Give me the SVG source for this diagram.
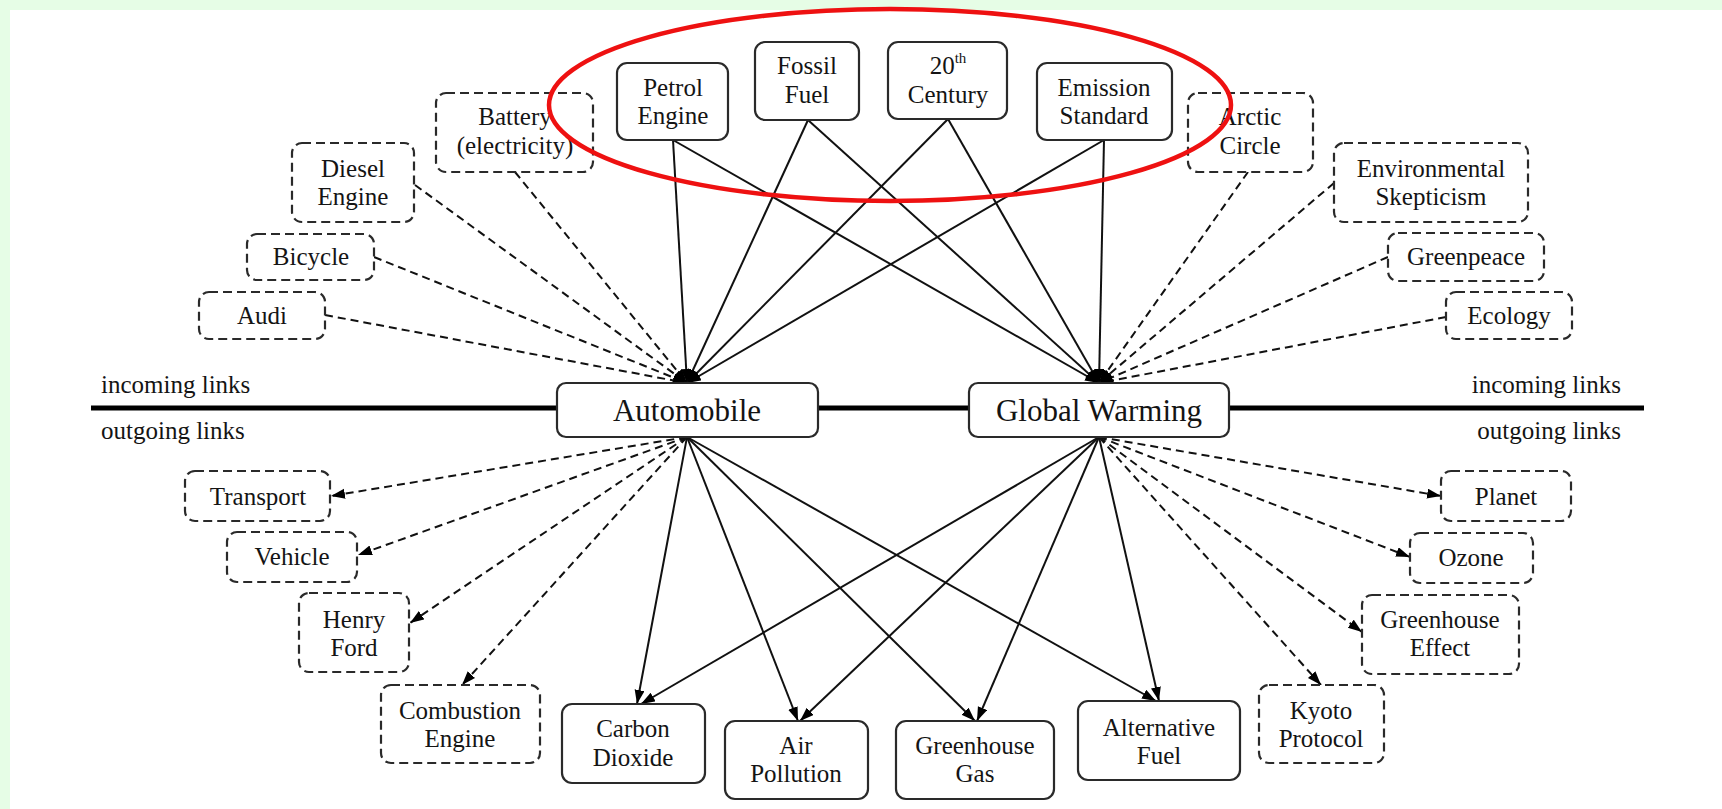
<svg xmlns="http://www.w3.org/2000/svg" width="1722" height="809" viewBox="0 0 1722 809">
<style>
.bg{fill:#e6fde6}
.box{fill:#fff;stroke:#2a2a2a;stroke-width:2.2}
.dbox{fill:#fff;stroke:#2a2a2a;stroke-width:2.2;stroke-dasharray:9 5}
text{font-family:"Liberation Serif","Times New Roman",serif;font-size:25px;fill:#141414;text-anchor:middle}
.big{font-size:31px}
.lbl{text-anchor:start}
.lblr{text-anchor:end}
.sup{font-size:15px}
.s{fill:none;stroke:#111;stroke-width:2;marker-end:url(#ah)}
.d{fill:none;stroke:#111;stroke-width:2;stroke-dasharray:8 5;marker-end:url(#ah)}
.axis{stroke:#000;stroke-width:5}
.oval{fill:none;stroke:#ee1111;stroke-width:4.5}
</style>
<defs>
<marker id="ah" markerUnits="userSpaceOnUse" markerWidth="16" markerHeight="11" refX="14" refY="5" orient="auto">
<path d="M0,0 L14,5 L0,10 z" fill="#000" stroke="none"/>
</marker>
</defs>
<rect x="0" y="0" width="1722" height="809" class="bg"/>
<rect x="10" y="10" width="1712" height="799" fill="#fff"/>
<line class="axis" x1="91" y1="408" x2="1644" y2="408"/>
<text class="lbl" x="101" y="393">incoming links</text>
<text class="lbl" x="101" y="439">outgoing links</text>
<text class="lblr" x="1621" y="393">incoming links</text>
<text class="lblr" x="1621" y="439">outgoing links</text>
<g id="connectors">
<line class="s" x1="673" y1="140" x2="687" y2="383"/>
<line class="s" x1="673" y1="140" x2="1099" y2="383"/>
<line class="s" x1="808" y1="120" x2="687" y2="383"/>
<line class="s" x1="808" y1="120" x2="1099" y2="383"/>
<line class="s" x1="948" y1="119" x2="687" y2="383"/>
<line class="s" x1="948" y1="119" x2="1099" y2="383"/>
<line class="s" x1="1104" y1="140" x2="687" y2="383"/>
<line class="s" x1="1104" y1="140" x2="1099" y2="383"/>
<line class="d" x1="515" y1="172" x2="687" y2="383"/>
<line class="d" x1="415" y1="185" x2="687" y2="383"/>
<line class="d" x1="374" y1="257" x2="687" y2="383"/>
<line class="d" x1="325" y1="315" x2="687" y2="383"/>
<line class="d" x1="1248" y1="172" x2="1099" y2="383"/>
<line class="d" x1="1334" y1="183" x2="1099" y2="383"/>
<line class="d" x1="1388" y1="257" x2="1099" y2="383"/>
<line class="d" x1="1446" y1="317" x2="1099" y2="383"/>
<line class="s" x1="687" y1="437" x2="637" y2="704"/>
<line class="s" x1="687" y1="437" x2="798" y2="721"/>
<line class="s" x1="687" y1="437" x2="975" y2="721"/>
<line class="s" x1="687" y1="437" x2="1156" y2="701"/>
<line class="s" x1="1099" y1="437" x2="641" y2="704"/>
<line class="s" x1="1099" y1="437" x2="800" y2="721"/>
<line class="s" x1="1099" y1="437" x2="977" y2="721"/>
<line class="s" x1="1099" y1="437" x2="1159" y2="701"/>
<line class="d" x1="687" y1="437" x2="331" y2="496"/>
<line class="d" x1="687" y1="437" x2="358" y2="555"/>
<line class="d" x1="687" y1="437" x2="410" y2="623"/>
<line class="d" x1="687" y1="437" x2="462" y2="685"/>
<line class="d" x1="1099" y1="437" x2="1441" y2="496"/>
<line class="d" x1="1099" y1="437" x2="1410" y2="557"/>
<line class="d" x1="1099" y1="437" x2="1362" y2="632"/>
<line class="d" x1="1099" y1="437" x2="1321" y2="685"/>
</g>
<g id="battery"><rect class="dbox" x="436" y="93" width="157" height="79" rx="10"/><text x="515" y="125">Battery</text><text x="515" y="154">(electricity)</text></g>
<g id="diesel-engine"><rect class="dbox" x="292" y="143" width="122" height="79" rx="10"/><text x="353" y="177">Diesel</text><text x="353" y="205">Engine</text></g>
<g id="bicycle"><rect class="dbox" x="247" y="234" width="127" height="46" rx="10"/><text x="311" y="265">Bicycle</text></g>
<g id="audi"><rect class="dbox" x="199" y="292" width="126" height="47" rx="10"/><text x="262" y="324">Audi</text></g>
<g id="petrol-engine"><rect class="box" x="617" y="63" width="111" height="77" rx="10"/><text x="673" y="96">Petrol</text><text x="673" y="124">Engine</text></g>
<g id="fossil-fuel"><rect class="box" x="755" y="42" width="104" height="78" rx="10"/><text x="807" y="74">Fossil</text><text x="807" y="103">Fuel</text></g>
<g id="century"><rect class="box" x="888" y="42" width="119" height="77" rx="10"/><text x="948" y="74">20<tspan class="sup" dy="-11">th</tspan></text><text x="948" y="103">Century</text></g>
<g id="emission-standard"><rect class="box" x="1037" y="63" width="135" height="77" rx="10"/><text x="1104" y="96">Emission</text><text x="1104" y="124">Standard</text></g>
<g id="arctic-circle"><rect class="dbox" x="1188" y="93" width="125" height="79" rx="10"/><text x="1250" y="125">Arctic</text><text x="1250" y="154">Circle</text></g>
<g id="environmental-skepticism"><rect class="dbox" x="1334" y="143" width="194" height="79" rx="10"/><text x="1431" y="177">Environmental</text><text x="1431" y="205">Skepticism</text></g>
<g id="greenpeace"><rect class="dbox" x="1388" y="233" width="156" height="48" rx="10"/><text x="1466" y="265">Greenpeace</text></g>
<g id="ecology"><rect class="dbox" x="1446" y="292" width="126" height="47" rx="10"/><text x="1509" y="324">Ecology</text></g>
<g id="automobile"><rect class="box" x="557" y="383" width="261" height="54" rx="9"/><text class="big" x="687" y="421">Automobile</text></g>
<g id="global-warming"><rect class="box" x="969" y="383" width="260" height="54" rx="9"/><text class="big" x="1099" y="421">Global Warming</text></g>
<g id="transport"><rect class="dbox" x="185" y="471" width="145" height="50" rx="10"/><text x="258" y="505">Transport</text></g>
<g id="vehicle"><rect class="dbox" x="227" y="532" width="130" height="50" rx="10"/><text x="292" y="565">Vehicle</text></g>
<g id="henry-ford"><rect class="dbox" x="299" y="593" width="110" height="79" rx="10"/><text x="354" y="628">Henry</text><text x="354" y="656">Ford</text></g>
<g id="combustion-engine"><rect class="dbox" x="381" y="685" width="159" height="78" rx="10"/><text x="460" y="719">Combustion</text><text x="460" y="747">Engine</text></g>
<g id="carbon-dioxide"><rect class="box" x="562" y="704" width="143" height="79" rx="10"/><text x="633" y="737">Carbon</text><text x="633" y="766">Dioxide</text></g>
<g id="air-pollution"><rect class="box" x="725" y="721" width="143" height="78" rx="10"/><text x="796" y="754">Air</text><text x="796" y="782">Pollution</text></g>
<g id="greenhouse-gas"><rect class="box" x="896" y="721" width="158" height="78" rx="10"/><text x="975" y="754">Greenhouse</text><text x="975" y="782">Gas</text></g>
<g id="alternative-fuel"><rect class="box" x="1078" y="701" width="162" height="79" rx="10"/><text x="1159" y="736">Alternative</text><text x="1159" y="764">Fuel</text></g>
<g id="planet"><rect class="dbox" x="1441" y="471" width="130" height="50" rx="10"/><text x="1506" y="505">Planet</text></g>
<g id="ozone"><rect class="dbox" x="1410" y="533" width="123" height="50" rx="10"/><text x="1471" y="566">Ozone</text></g>
<g id="greenhouse-effect"><rect class="dbox" x="1362" y="595" width="157" height="79" rx="10"/><text x="1440" y="628">Greenhouse</text><text x="1440" y="656">Effect</text></g>
<g id="kyoto-protocol"><rect class="dbox" x="1259" y="685" width="125" height="78" rx="10"/><text x="1321" y="719">Kyoto</text><text x="1321" y="747">Protocol</text></g>
<ellipse class="oval" cx="890" cy="105" rx="341" ry="96"/>
</svg>
